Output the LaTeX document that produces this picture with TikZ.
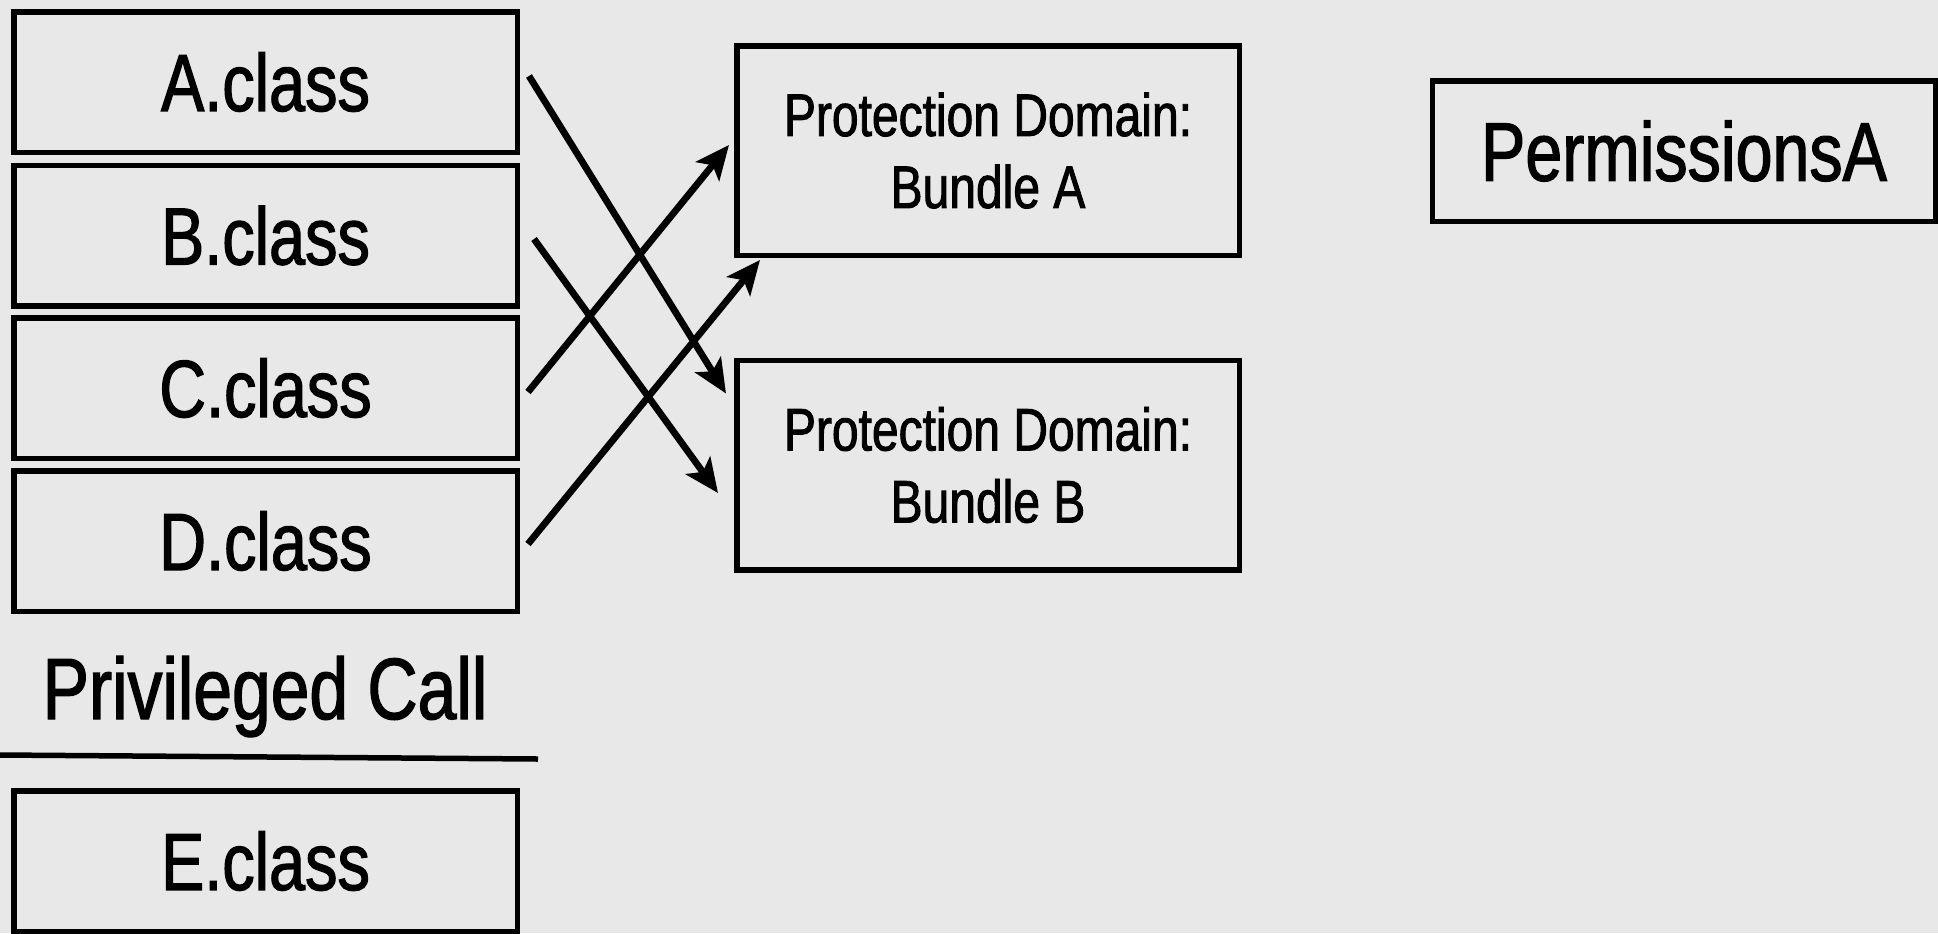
\documentclass[tikz,border=0pt]{standalone}
\usepackage{fontspec}
\setmainfont{Liberation Sans}[FakeStretch=0.8,FakeBold=1.5]
\usetikzlibrary{arrows.meta}
\definecolor{bggray}{RGB}{232,232,232}
\begin{document}
\begin{tikzpicture}[x=0.5pt,y=-0.5pt,
  cls/.style={draw=black,line width=2.75pt,minimum width=251.75pt,minimum height=70.25pt,font=\fontsize{40.5}{48}\selectfont},
  pd/.style={draw=black,line width=2.75pt,minimum width=251.25pt,minimum height=104.75pt,align=center,font=\fontsize{30}{36}\selectfont},
  arr/.style={line width=3.4pt,-{Stealth[length=17pt,width=15pt,inset=4pt]}}]
\useasboundingbox[fill=bggray] (0,0) rectangle (1938,933);
\node[cls] (A) at (265.5,82) {A.class};
\node[cls] (B) at (265.5,235.5) {B.class};
\node[cls] (C) at (265.5,388) {C.class};
\node[cls] (D) at (265.5,541) {D.class};
\node[anchor=base,font=\fontsize{43.5}{50}\selectfont] (P) at (265,719) {Privileged Call};
\draw[line width=2.75pt] (0,755) -- (538,759);
\node[cls] (E) at (265.5,861) {E.class};
\node[pd] (PA) at (988,150.5) {Protection Domain:\\Bundle A};
\node[pd] (PB) at (988,465) {Protection Domain:\\Bundle B};
\node[cls,font=\fontsize{41.5}{50}\selectfont] (PermA) at (1684,151) {PermissionsA};
\draw[arr] ([shift={(9,-6)}]A.east) -- ([shift={(-8,36)}]PB.north west);
\draw[arr] ([shift={(14,3.5)}]B.east) -- ([shift={(-16,28)}]PB.west);
\draw[arr] ([shift={(8,4)}]C.east) -- ([shift={(-5,-5.5)}]PA.west);
\draw[arr] ([shift={(8,3)}]D.east) -- ([shift={(26,2)}]PA.south west);
\end{tikzpicture}
\end{document}
